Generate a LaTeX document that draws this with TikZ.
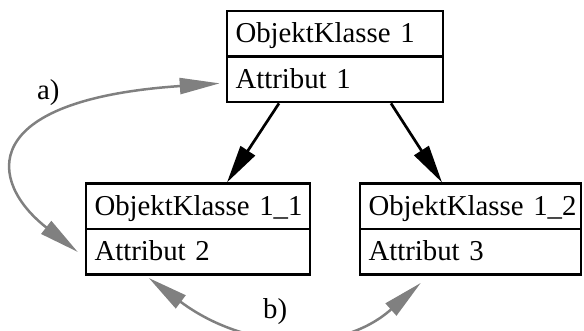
\documentclass[tikz,border=0pt]{standalone}
\usepackage{fontspec}
\setmainfont{Liberation Serif}
\usetikzlibrary{arrows.meta}
\usetikzlibrary{shapes.multipart}
\newcommand{\klassefont}{\fontsize{28.8}{34}\selectfont}
\newcommand{\zeile}{\rule[-12.5pt]{0pt}{43pt}}

\begin{document}
\begin{tikzpicture}[x=1pt,y=-1pt]
        \tikzset{klasse/.style = {rectangle split, rectangle split parts=2, draw, line width=2.5pt,
                inner xsep=8.5pt, inner ysep=0pt, align=left, font=\klassefont}}
        \tikzset{erbt/.style = {-{Triangle[length=38pt,width=17pt]}, line width=2.7pt}}
        \tikzset{bezug/.style = {{Triangle[length=40pt,width=16pt]}-{Triangle[length=40pt,width=16pt]}, draw=gray, line width=2.5pt}}
        \useasboundingbox (0,0) rectangle (584,331);

        \node[klasse, text width=199pt] (ok1) at (335,56.6)
                {\mbox{\zeile ObjektKlasse 1} \nodepart{two}\zeile Attribut 1};
        \node[klasse, text width=207pt] (ok11) at (198,229.2)
                {\mbox{\zeile ObjektKlasse 1\_1} \nodepart{two}\zeile Attribut 2};
        \node[klasse, text width=204pt] (ok12) at (470.5,229.2)
                {\mbox{\zeile ObjektKlasse 1\_2} \nodepart{two}\zeile Attribut 3};

        \draw[erbt] ([xshift=-56pt]ok1.south) -- ([xshift=29pt]ok11.north);
        \draw[erbt] ([xshift=56pt]ok1.south) -- ([xshift=-28.5pt]ok12.north);

        \draw[bezug] ([xshift=-6pt,yshift=20pt]ok1.south west)
                .. controls (-25,100) and (-12,182) .. ([xshift=-7pt,yshift=24pt]ok11.south west);
        \draw[bezug] ([xshift=64pt,yshift=-2pt]ok11.south west)
                .. controls (245,350) and (340,355) .. ([xshift=62pt,yshift=-7pt]ok12.south west);

        \node[font=\klassefont, anchor=base west, inner sep=0pt] (lbla) at (37,100) {a)};
        \node[font=\klassefont, anchor=base west, inner sep=0pt] (lblb) at (263,319) {b)};
\end{tikzpicture}
\end{document}
